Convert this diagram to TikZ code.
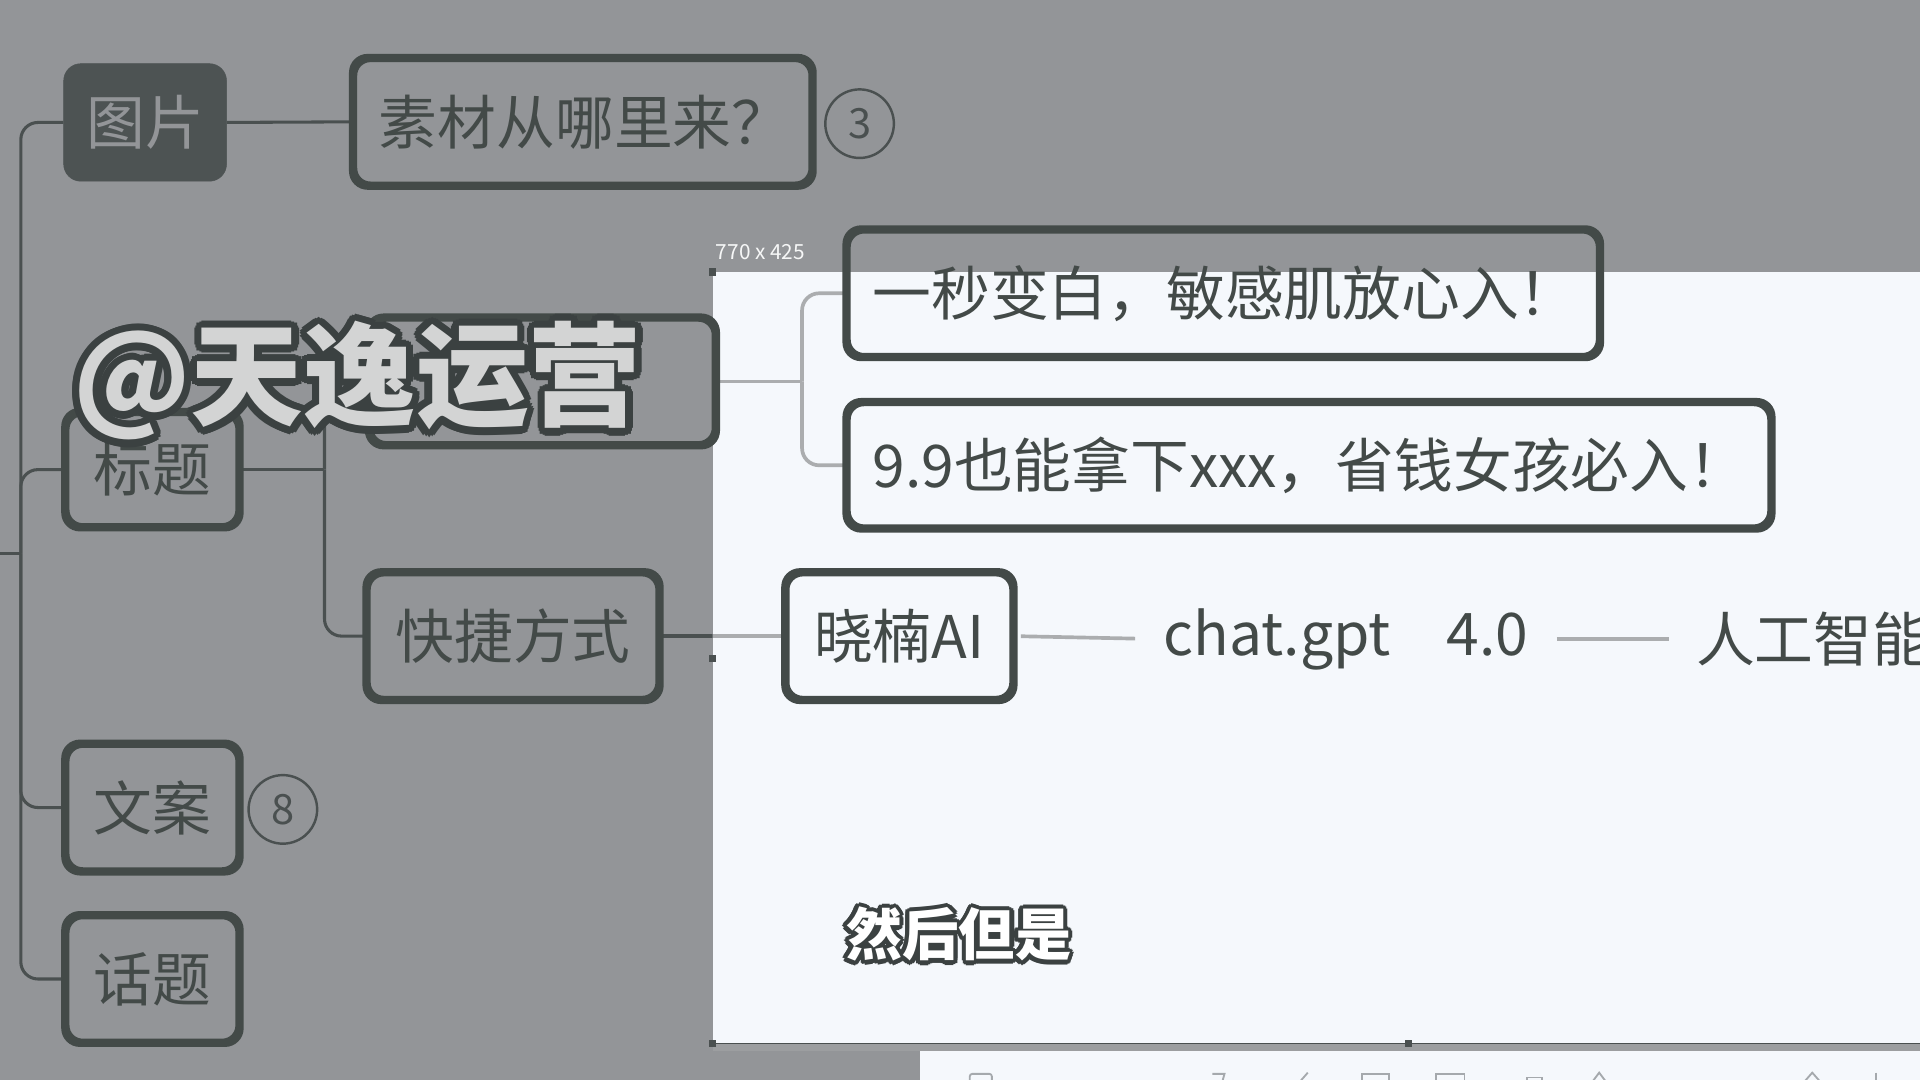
\documentclass[tikz,border=0pt]{standalone}
\usepackage{fontspec}
\usetikzlibrary{calc}
\setmainfont{Noto Sans CJK SC}
\definecolor{bg}{HTML}{939598}
\definecolor{panel}{HTML}{F5F8FC}
\definecolor{ink}{HTML}{434A48}
\definecolor{lnd}{HTML}{4A5050}
\definecolor{lnk}{HTML}{ABADAF}
\definecolor{tagfill}{HTML}{4D5353}
\definecolor{wm}{HTML}{D3D4D4}
\definecolor{wmline}{HTML}{3B4141}
\definecolor{band}{HTML}{9C9EA0}
\definecolor{iconc}{HTML}{A5A9AD}
\begin{document}
\begin{tikzpicture}[x=1pt,y=-1pt,
  box/.style={draw=ink, line width=4.5pt, rounded corners=13pt, text=ink, inner xsep=20pt, inner ysep=0pt, font=\fontsize{48}{54}\selectfont},
  tag/.style={fill=tagfill, draw=tagfill, rounded corners=14pt, text=bg, inner sep=0pt, font=\fontsize{48}{54}\selectfont},
  badge/.style={circle, draw=lnd, line width=2pt, minimum size=56pt, inner sep=0pt, text=lnd, font=\fontsize{34}{40}\selectfont},
  plain/.style={inner sep=0pt, text=ink, font=\fontsize{48}{54}\selectfont},
  conn/.style={draw=lnd, line width=2.5pt, rounded corners=14pt},
  connl/.style={draw=lnk, line width=3pt, rounded corners=14pt},
  handle/.style={fill=lnd, draw=none},
  icon/.style={draw=iconc, line width=1.5pt}]
\useasboundingbox (0,0) rectangle (1568,882);
\clip (0,0) rectangle (1568,882);
% backgrounds
\fill[bg] (0,0) rectangle (1568,882);
\fill[panel] (582,222) rectangle (1568,852);
\fill[band] (582,852) rectangle (1568,858);
\draw[lnd, line width=1pt] (582,852.5) -- (1568,852.5);
\fill[panel] (751,858) rectangle (1568,882);
% nodes
\node[tag, minimum width=133, minimum height=96] (pic) at (118.5,100) {图片};
\node[box, text width=333, align=left, minimum height=102] (src) at (476,99.5) {素材从哪里来？};
\node[badge] (b3) at (702,101) {3};
\node[box, minimum width=140, minimum height=92, align=center] (title) at (124.5,383.5) {标题};
\node[box, minimum width=281, minimum height=102] (hid) at (443,311.5) {};
\node[box, text width=573, align=left, minimum height=102] (s1) at (999,239.5) {一秒变白，敏感肌放心入！};
\node[box, text width=713, align=left, minimum height=101] (s2) at (1069,380) {9.9也能拿下xxx，省钱女孩必入！};
\node[box, minimum width=237, minimum height=102, align=center] (kj) at (419,519.5) {快捷方式};
\node[box, minimum width=184, minimum height=102, align=center] (xn) at (734.5,519.5) {晓楠AI};
\node[plain, anchor=west] (chat) at (950,522) {chat.gpt\hspace{0.95em}4.0};
\node[plain, anchor=west] (ai) at (1385,522) {人工智能};
\node[box, minimum width=140, minimum height=102, align=center] (wa) at (124.5,659.5) {文案};
\node[badge] (b8) at (231,661) {8};
\node[box, minimum width=140, minimum height=102, align=center] (ht) at (124.5,799.5) {话题};
% connectors
\coordinate (L) at (0,452);
\coordinate (R) at (17,452);
\coordinate (T) at (265,383.5);
\coordinate (H) at (655,311.5);
\draw[conn] (L) -- (R);
\draw[conn] (R) |- (pic.west);
\draw[conn] (R) |- (title.west);
\draw[conn] (R) |- (wa.west);
\draw[conn] (R) |- (ht.west);
\draw[conn] (pic.east) -- (src.west);
\draw[conn] (title.east) -- (T);
\draw[conn] (T) |- (hid.west);
\draw[conn] (T) |- (kj.west);
\draw[connl] (hid.east) -- (H);
\draw[connl] (H) |- (s1.west);
\draw[connl] (H) |- (s2.west);
\draw[connl] (kj.east) -- (xn.west);
\begin{scope}
  \clip (0,0) rectangle (582,882);
  \draw[conn, line width=3pt] (kj.east) -- (xn.west);
\end{scope}
\draw[connl, shorten <=5pt, shorten >=23pt] (xn.east) -- (chat.west);
\draw[connl, shorten <=23pt, shorten >=22pt] (chat.east) -- (ai.west);
% redraw box borders over connectors
\foreach \n in {src,title,hid,s1,s2,kj,xn,wa,ht}{
  \draw[draw=ink, line width=4.5pt, rounded corners=13pt] (\n.north west) rectangle (\n.south east);
}
% handles
\fill[handle] (579,219) rectangle (585,225);
\fill[handle] (579,535) rectangle (585,541);
\fill[handle] (579,849) rectangle (585,855);
\fill[handle] (1147,849) rectangle (1153,855);
% size label
\node[inner sep=0pt, text=white!92!bg, font=\fontsize{17}{20}\selectfont] (size) at (621,206) {770 x 425};
% toolbar icons (cut off)
\draw[icon, rounded corners=2pt] (792,884) -- (792,877) -- (810,877) -- (810,884);
\draw[icon] (866,884) arc[start angle=180, end angle=0, radius=9];
\draw[icon] (924,884) arc[start angle=180, end angle=0, radius=9];
\draw[icon] (990,877) -- (1000,877) -- (998,884);
\draw[icon] (1068,876) -- (1061,884);
\draw[icon] (1112,884) -- (1112,877) -- (1134,877) -- (1134,884);
\draw[icon] (1173,884) -- (1173,877) -- (1196,877) -- (1196,884);
\draw[icon] (1247,884) -- (1247,880) -- (1259,880) -- (1259,884);
\draw[icon] (1300,884) -- (1306,876) -- (1312,884);
\draw[icon] (1473,884) -- (1480,876) -- (1487,884);
\draw[icon] (1532,876) -- (1532,884);
% watermark
\foreach \a in {0,22.5,...,337.5}{
  \node[inner sep=0pt, text=wmline, font=\fontsize{92}{106}\bfseries] at ($(292,311)+(\a:6)$) {@天逸运营};
}
\node[inner sep=0pt, text=wm, font=\fontsize{92}{106}\bfseries] (wmark) at (292,311) {@天逸运营};
% subtitle
\foreach \a in {0,30,...,330}{
  \node[inner sep=0pt, text=wmline, font=\fontsize{46}{52}\bfseries] at ($(783,763)+(\a:3.5)$) {然后但是};
}
\node[inner sep=0pt, text=white, font=\fontsize{46}{52}\bfseries] (sub) at (783,763) {然后但是};
\end{tikzpicture}
\end{document}
